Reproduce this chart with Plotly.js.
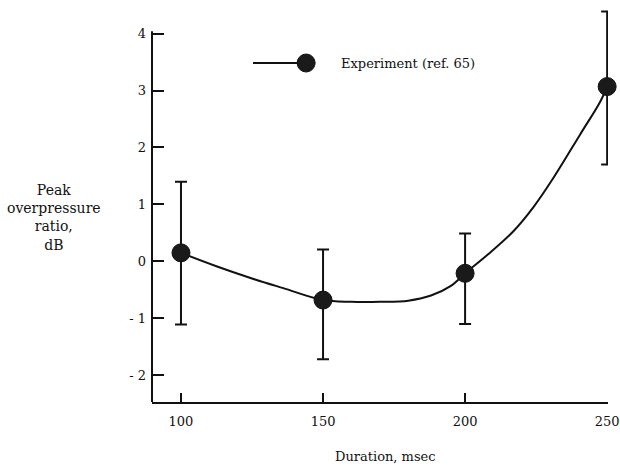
<!DOCTYPE html>
<html>
<head>
<meta charset="utf-8">
<script src="https://cdn.plot.ly/plotly-3.0.1.min.js"></script>
<style>html,body{margin:0;padding:0;background:#fff;}#chart{width:620px;height:473px;}</style>
</head>
<body>
<div id="chart"></div>
<script>
// Measured points
const durations = [100, 150, 200, 250];
const ratios = [0.15, -0.68, -0.21, 3.07];
const errPlus = [1.25, 0.89, 0.70, 1.32];
const errMinus = [1.26, 1.04, 0.89, 1.37];

// Faired curve
const curveX = [100, 112.7, 125, 136, 150, 160, 170, 180, 188, 195, 200, 208, 217, 224, 231, 240.5, 247.5, 250];
const curveY = [0.15, -0.09, -0.30, -0.47, -0.68, -0.71, -0.71, -0.69, -0.60, -0.43, -0.21, 0.12, 0.53, 0.95, 1.46, 2.23, 2.80, 3.07];

const xTickVals = [100, 150, 200, 250];
const xTickText = ['100', '150', '200', '250'];
const yTickVals = [-2, -1, 0, 1, 2, 3, 4];
const yTickText = ['- 2', '- 1', '0', '1', '2', '3', '4'];

const legendLabel = 'Experiment (ref. 65)';
const xTitle = 'Duration, msec';
const yTitle = 'Peak<br>overpressure<br>ratio,<br>dB';

const ink = '#111111';
const serif = 'DejaVu Serif, Liberation Serif, serif';

const traces = [
  {
    x: curveX, y: curveY, mode: 'lines', type: 'scatter', cliponaxis: false,
    line: {color: ink, width: 2, shape: 'spline', smoothing: 1},
    showlegend: false, hoverinfo: 'skip'
  },
  {
    x: durations, y: ratios, mode: 'markers', type: 'scatter', cliponaxis: false,
    marker: {color: '#1a1a1a', size: 18, line: {color: ink, width: 1}},
    error_y: {type: 'data', symmetric: false, array: errPlus, arrayminus: errMinus,
              color: ink, thickness: 2, width: 6},
    showlegend: false
  }
];

// plot area: y from pixel 8 (top) to 402 (axis); y-axis line drawn only up to the "4" tick
const yTop = 4.45, yBottom = -2.47, yLineTop = 4.04;
const pTop = 8, pBottom = 402;
const py = p => (pBottom - p) / (pBottom - pTop); // pixel row -> paper y

const layout = {
  width: 620, height: 473,
  margin: {l: 152, r: 12, t: pTop, b: 473 - pBottom},
  paper_bgcolor: '#fff', plot_bgcolor: '#fff',
  font: {family: serif, color: ink, size: 13},
  showlegend: false,
  xaxis: {
    range: [89.8, 250.3], showgrid: false, zeroline: false,
    showline: true, linecolor: ink, linewidth: 2, mirror: false,
    ticks: 'inside', ticklen: 9, tickwidth: 2, tickcolor: ink,
    tickvals: xTickVals, ticktext: xTickText, ticklabelstandoff: 6,
    tickfont: {family: serif, size: 13, color: ink}
  },
  yaxis: {
    range: [yBottom, yTop], showgrid: false, zeroline: false,
    showline: false,
    ticks: 'inside', ticklen: 12, tickwidth: 2, tickcolor: ink,
    tickvals: yTickVals, ticktext: yTickText, ticklabelstandoff: 5,
    tickfont: {family: serif, size: 13, color: ink}
  },
  shapes: [
    {type: 'line', xref: 'paper', yref: 'y', x0: 0, x1: 0, y0: yBottom, y1: yLineTop,
     line: {color: ink, width: 2}},
    {type: 'line', xref: 'paper', yref: 'paper', x0: 0.2215, x1: 0.322, y0: py(63), y1: py(63),
     line: {color: ink, width: 2}},
    {type: 'circle', xref: 'paper', yref: 'paper', xsizemode: 'pixel', ysizemode: 'pixel',
     xanchor: 0.338, yanchor: py(63), x0: -9, x1: 9, y0: -9, y1: 9,
     fillcolor: '#1a1a1a', line: {color: ink, width: 1}}
  ],
  annotations: [
    {text: legendLabel, xref: 'paper', yref: 'paper', x: 0.41, y: py(63),
     xanchor: 'left', yanchor: 'middle', showarrow: false,
     font: {family: serif, size: 13, color: ink}},
    {text: xTitle, xref: 'paper', yref: 'paper', x: 0.513, y: py(456),
     xanchor: 'center', yanchor: 'middle', showarrow: false,
     font: {family: serif, size: 13, color: ink}},
    {text: yTitle, xref: 'paper', yref: 'paper', x: -0.215, y: py(218),
     xanchor: 'center', yanchor: 'middle', showarrow: false, align: 'center',
     font: {family: serif, size: 14, color: ink}}
  ]
};

Plotly.newPlot('chart', traces, layout, {staticPlot: true, displayModeBar: false});
</script>
</body>
</html>
